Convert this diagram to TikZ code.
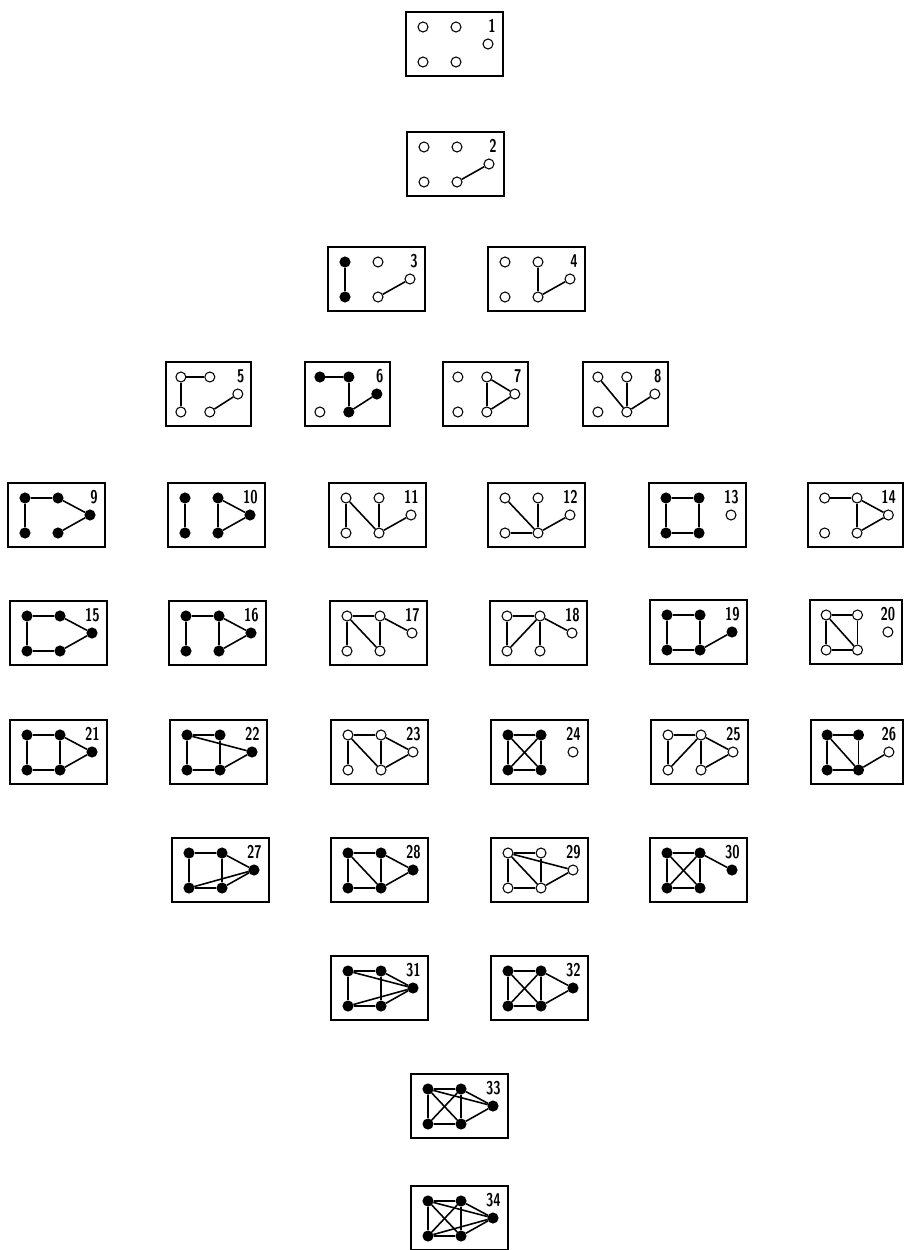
\documentclass[tikz,border=0pt]{standalone}
\usetikzlibrary{positioning}
% one numbered box with a five-vertex graph
% #1 number, #2/#3 top-left corner, #4 width factor, #5 vertex fills, #6 edges
\newcommand{\gbox}[6]{%
  \begin{scope}[shift={(#2,#3)}, xscale=#4]
    \draw[frame] (0,0) rectangle (97,64);
    \coordinate (p#1a) at (17,15);
    \coordinate (p#1b) at (50,15);
    \coordinate (p#1c) at (82,32);
    \coordinate (p#1d) at (17,50);
    \coordinate (p#1e) at (50,50);
    \node[num] (n#1) at (90,7) {\scalebox{0.72}[1]{#1}};
    \foreach \v/\c in {#5} { \node[vtx, fill=\c] (g#1\v) at (p#1\v) {}; }
    \if\relax\detokenize{#6}\relax\else
      \foreach \u/\w in {#6} { \draw[edge] (g#1\u) -- (g#1\w); }
    \fi
  \end{scope}}

\begin{document}
\begin{tikzpicture}[
    x=0.02cm, y=-0.02cm,
    frame/.style={draw, line width=1.3pt},
    vtx/.style={circle, draw, line width=0.6pt, minimum size=2mm, inner sep=0pt},
    edge/.style={line width=0.9pt},
    num/.style={anchor=north east, inner sep=0pt, font=\fontsize{10.5}{10.5}\selectfont\sffamily\bfseries},
  ]
  \useasboundingbox (0,0) rectangle (903,1250);

  % ---------------- rows 1-3
  \gbox{1}{406}{12}{1}{a/white,b/white,c/white,d/white,e/white}{}
  \gbox{2}{407}{132}{1}{a/white,b/white,c/white,d/white,e/white}{e/c}
  \gbox{3}{328}{247}{1}{a/black,b/white,c/white,d/black,e/white}{a/d,e/c}
  \gbox{4}{488}{247}{1}{a/white,b/white,c/white,d/white,e/white}{b/e,e/c}

  % ---------------- row 4
  \gbox{5}{166}{362}{0.876}{a/white,b/white,c/white,d/white,e/white}{a/b,a/d,e/c}
  \gbox{6}{305}{362}{0.876}{a/black,b/black,c/black,d/white,e/black}{a/b,b/e,e/c}
  \gbox{7}{443}{362}{0.876}{a/white,b/white,c/white,d/white,e/white}{b/c,b/e,e/c}
  \gbox{8}{583}{362}{0.876}{a/white,b/white,c/white,d/white,e/white}{a/e,b/e,e/c}

  % ---------------- row 5
  \gbox{9}{8}{483}{1}{a/black,b/black,c/black,d/black,e/black}{a/b,a/d,b/c,c/e}
  \gbox{10}{168}{483}{1}{a/black,b/black,c/black,d/black,e/black}{a/d,b/c,b/e,c/e}
  \gbox{11}{329}{483}{1}{a/white,b/white,c/white,d/white,e/white}{a/d,a/e,b/e,e/c}
  \gbox{12}{488}{483}{1}{a/white,b/white,c/white,d/white,e/white}{a/e,b/e,c/e,d/e}
  \gbox{13}{649}{483}{1}{a/black,b/black,c/white,d/black,e/black}{a/b,b/e,d/e,a/d}
  \gbox{14}{808}{483}{0.98}{a/white,b/white,c/white,d/white,e/white}{a/b,b/c,b/e,c/e}

  % ---------------- row 6
  \gbox{15}{10}{601}{1}{a/black,b/black,c/black,d/black,e/black}{a/b,b/c,c/e,d/e,a/d}
  \gbox{16}{169}{601}{1}{a/black,b/black,c/black,d/black,e/black}{a/b,a/d,b/c,b/e,c/e}
  \gbox{17}{330}{601}{1}{a/white,b/white,c/white,d/white,e/white}{a/b,a/d,a/e,b/e,b/c}
  \gbox{18}{490}{601}{1}{a/white,b/white,c/white,d/white,e/white}{a/b,a/d,b/d,b/e,b/c}
  \gbox{19}{650}{600}{1}{a/black,b/black,c/black,d/black,e/black}{a/b,b/e,d/e,a/d,e/c}
  \gbox{20}{810}{600}{0.95}{a/white,b/white,c/white,d/white,e/white}{a/b,b/e,d/e,a/d,a/e}

  % ---------------- row 7
  \gbox{21}{10}{720}{1}{a/black,b/black,c/black,d/black,e/black}{a/b,b/c,c/e,d/e,a/d,b/e}
  \gbox{22}{170}{720}{1}{a/black,b/black,c/black,d/black,e/black}{a/b,a/c,a/d,b/e,d/e,c/e}
  \gbox{23}{331}{720}{1}{a/white,b/white,c/white,d/white,e/white}{a/b,a/d,a/e,b/e,b/c,c/e}
  \gbox{24}{491}{720}{1}{a/black,b/black,c/white,d/black,e/black}{a/b,a/d,b/e,d/e,a/e,b/d}
  \gbox{25}{651}{720}{1}{a/white,b/white,c/white,d/white,e/white}{a/b,a/d,b/d,b/e,b/c,c/e}
  \gbox{26}{811}{720}{0.95}{a/black,b/black,c/white,d/black,e/black}{a/b,a/d,a/e,b/e,d/e,e/c}

  % ---------------- row 8
  \gbox{27}{172}{838}{1}{a/black,b/black,c/black,d/black,e/black}{a/b,a/d,b/e,d/e,d/c,e/c,b/c}
  \gbox{28}{331}{838}{1}{a/black,b/black,c/black,d/black,e/black}{a/b,a/d,a/e,b/e,d/e,b/c,c/e}
  \gbox{29}{491}{838}{1}{a/white,b/white,c/white,d/white,e/white}{a/b,a/c,a/d,a/e,b/e,d/e,c/e}
  \gbox{30}{650}{838}{1}{a/black,b/black,c/black,d/black,e/black}{a/b,a/d,a/e,b/d,b/e,d/e,b/c}

  % ---------------- rows 9-11
  \gbox{31}{331}{956}{1}{a/black,b/black,c/black,d/black,e/black}{a/b,a/d,a/c,b/e,d/e,d/c,e/c,b/c}
  \gbox{32}{491}{956}{1}{a/black,b/black,c/black,d/black,e/black}{a/b,a/d,a/e,b/d,b/e,d/e,b/c,c/e}
  \gbox{33}{411}{1074}{1}{a/black,b/black,c/black,d/black,e/black}{a/b,a/d,a/e,b/d,b/e,d/e,b/c,c/e,a/c}
  \gbox{34}{411}{1186}{1}{a/black,b/black,c/black,d/black,e/black}{a/b,a/c,a/d,a/e,b/c,b/d,b/e,c/d,c/e,d/e}
\end{tikzpicture}
\end{document}
